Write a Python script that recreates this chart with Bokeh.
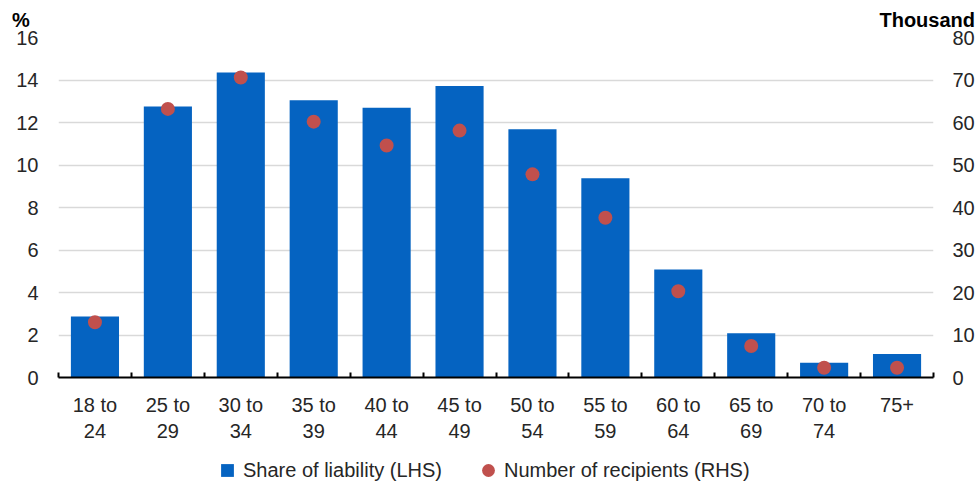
from bokeh.plotting import figure
from bokeh.layouts import column
from bokeh.models import (Range1d, LinearAxis, FixedTicker, Legend, LegendItem,
                          ColumnDataSource, Div)
from bokeh.embed import file_html
from bokeh.resources import INLINE

categories = ["18 to 24", "25 to 29", "30 to 34", "35 to 39", "40 to 44", "45 to 49",
              "50 to 54", "55 to 59", "60 to 64", "65 to 69", "70 to 74", "75+"]
tick_labels = ["18 to\n24", "25 to\n29", "30 to\n34", "35 to\n39", "40 to\n44", "45 to\n49",
               "50 to\n54", "55 to\n59", "60 to\n64", "65 to\n69", "70 to\n74", "75+"]
share_of_liability = [2.87, 12.75, 14.35, 13.05, 12.7, 13.72, 11.68, 9.38, 5.08, 2.08, 0.69, 1.11]
recipients_thousand = [13.0, 63.2, 70.6, 60.2, 54.6, 58.1, 47.8, 37.6, 20.3, 7.4, 2.3, 2.3]
left_ticks = [0, 2, 4, 6, 8, 10, 12, 14, 16]
right_ticks = [0, 10, 20, 30, 40, 50, 60, 70, 80]
legend_labels = ["Share of liability (LHS)", "Number of recipients (RHS)"]
left_unit = "%"
right_unit = "Thousand"

FONT = "Liberation Sans"
TXT = "#262626"
BLUE = "#0563C1"
RED = "#C0504D"
W = 979

# ---------- header with unit labels ----------
span_css = "position:absolute;bottom:2px;line-height:1;"
hdr = Div(text=(f'<div style="position:relative;width:{W}px;height:32px;'
                f"font-family:'{FONT}';font-weight:bold;font-size:20px;color:black;\">"
                f'<span style="{span_css}left:12px;">{left_unit}</span>'
                f'<span style="{span_css}right:4px;">{right_unit}</span></div>'),
          width=W, height=32, margin=0)

# ---------- main chart (overlaps header slightly, transparent border) ----------
pos = [i + 0.5 for i in range(len(categories))]
src = ColumnDataSource(dict(x=pos, cat=categories, share=share_of_liability,
                            rec=recipients_thousand))

p = figure(width=W, height=434, output_backend="svg", toolbar_location=None,
           x_range=Range1d(0, len(categories)), y_range=Range1d(0, 16),
           min_border_left=58, min_border_right=46, min_border_top=25, min_border_bottom=69,
           margin=(-20, 0, 0, 0))
p.extra_y_ranges = {"right": Range1d(0, 80)}
p.outline_line_color = None
p.background_fill_color = "white"
p.border_fill_alpha = 0

p.vbar(x="x", top="share", width=0.66, source=src, fill_color=BLUE, line_color=None)
p.scatter(x="x", y="rec", source=src, y_range_name="right", size=14,
          fill_color=RED, line_color=None)

xa = p.xaxis[0]
xa.ticker = FixedTicker(ticks=pos, minor_ticks=list(range(len(categories) + 1)))
xa.major_label_overrides = {x: lab for x, lab in zip(pos, tick_labels)}
xa.major_tick_line_color = None
xa.major_tick_in = 0
xa.major_tick_out = 0
xa.minor_tick_line_color = "black"
xa.minor_tick_line_width = 2
xa.minor_tick_in = 5
xa.minor_tick_out = 0
xa.axis_line_color = "black"
xa.axis_line_width = 2
xa.major_label_text_font = FONT
xa.major_label_text_font_size = "20px"
xa.major_label_text_color = TXT
xa.major_label_standoff = 16

ya = p.yaxis[0]
ya.ticker = FixedTicker(ticks=left_ticks)
ya.axis_line_color = None
ya.major_tick_line_color = None
ya.minor_tick_line_color = None
ya.major_tick_in = 0
ya.major_tick_out = 0
ya.major_label_text_font = FONT
ya.major_label_text_font_size = "20px"
ya.major_label_text_color = TXT
ya.major_label_standoff = 20

ra = LinearAxis(y_range_name="right", ticker=FixedTicker(ticks=right_ticks))
ra.axis_line_color = None
ra.major_tick_line_color = None
ra.minor_tick_line_color = None
ra.major_tick_in = 0
ra.major_tick_out = 0
ra.major_label_text_font = FONT
ra.major_label_text_font_size = "20px"
ra.major_label_text_color = TXT
ra.major_label_standoff = 19
p.add_layout(ra, "right")

p.xgrid.visible = False
p.ygrid.ticker = FixedTicker(ticks=left_ticks)
p.ygrid.grid_line_color = "#D9D9D9"
p.ygrid.grid_line_width = 1.5

# ---------- legend strip (frame aligned with main chart) ----------
leg = figure(width=W, height=40, output_backend="svg", toolbar_location=None,
             x_range=Range1d(0, 1), y_range=Range1d(0, 1),
             min_border_left=58, min_border_right=46, min_border_top=0, min_border_bottom=0,
             margin=0)
leg.outline_line_color = None
leg.background_fill_color = "white"
leg.border_fill_color = "white"
leg.xaxis.visible = False
leg.yaxis.visible = False
leg.grid.visible = False
# swatch renderers share the chart's data; it lies outside this strip's range
sq_proxy = leg.scatter(x="x", y="rec", source=src, marker="square", fill_color=BLUE,
                       line_color=None)
ci_proxy = leg.scatter(x="x", y="rec", source=src, marker="circle", fill_color=RED,
                       line_color=None)
legend = Legend(items=[LegendItem(label=legend_labels[0], renderers=[sq_proxy]),
                       LegendItem(label=legend_labels[1], renderers=[ci_proxy])],
                orientation="horizontal", location=(153, 0),
                label_text_font=FONT, label_text_font_size="20px", label_text_color=TXT,
                glyph_width=32, glyph_height=32, label_standoff=0, spacing=30,
                border_line_color=None, background_fill_alpha=0, padding=0, margin=0,
                inactive_fill_alpha=0)
leg.add_layout(legend, "center")

layout = column(hdr, p, leg, spacing=0)
open("out.html", "w").write(file_html(layout, INLINE))
